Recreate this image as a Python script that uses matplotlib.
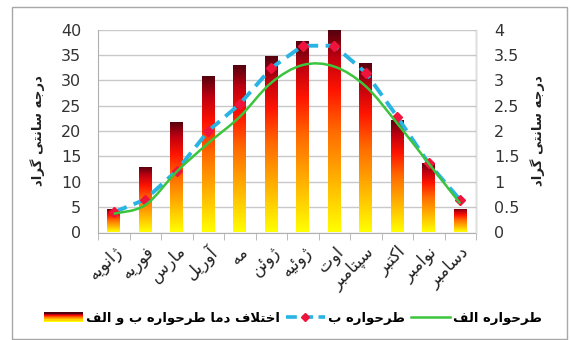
import numpy as np
import matplotlib
matplotlib.use("Agg")
import matplotlib.pyplot as plt
import matplotlib.transforms as mtransforms
from matplotlib.colors import LinearSegmentedColormap
from matplotlib.path import Path
from matplotlib.patches import PathPatch, Rectangle
from matplotlib.legend_handler import HandlerBase
from matplotlib.lines import Line2D

months = ["ژانویه", "فوریه", "مارس", "آوریل", "مه", "ژوئن",
          "ژوئیه", "اوت", "سپتامبر", "اکتبر", "نوامبر", "دسامبر"]
# temperature difference between designs B and A (left axis)
diff_ba = [4.6, 13.0, 21.8, 30.9, 33.0, 34.7, 37.8, 40.0, 33.4, 22.2, 13.6, 4.6]
# design B (right axis)
design_b = [0.40, 0.65, 1.22, 2.00, 2.53, 3.24, 3.68, 3.68, 3.15, 2.28, 1.36, 0.64]
# design A (right axis, smoothed line)
design_a = [0.37, 0.54, 1.20, 1.76, 2.28, 2.95, 3.30, 3.27, 2.88, 2.15, 1.36, 0.57]

left_ticks = [0, 5, 10, 15, 20, 25, 30, 35, 40]
right_ticks = [0, 0.5, 1, 1.5, 2, 2.5, 3, 3.5, 4]
right_ticklabels = ["0", "0.5", "1", "1.5", "2", "2.5", "3", "3.5", "4"]

ylabel_text = "درجه سانتی گراد"
legend_diff = "اختلاف دما طرحواره ب و الف"
legend_b = "طرحواره ب"
legend_a = "طرحواره الف"

# --- minimal Persian shaping (presentation forms + RTL order) ---
FORMS = {
    "ا": ("\uFE8D", "\uFE8E"), "آ": ("\uFE81", "\uFE82"),
    "د": ("\uFEA9", "\uFEAA"), "ر": ("\uFEAD", "\uFEAE"),
    "ژ": ("\uFB8A", "\uFB8B"), "و": ("\uFEED", "\uFEEE"),
    "ب": ("\uFE8F", "\uFE90", "\uFE91", "\uFE92"),
    "پ": ("\uFB56", "\uFB57", "\uFB58", "\uFB59"),
    "ت": ("\uFE95", "\uFE96", "\uFE97", "\uFE98"),
    "ج": ("\uFE9D", "\uFE9E", "\uFE9F", "\uFEA0"),
    "ح": ("\uFEA1", "\uFEA2", "\uFEA3", "\uFEA4"),
    "خ": ("\uFEA5", "\uFEA6", "\uFEA7", "\uFEA8"),
    "س": ("\uFEB1", "\uFEB2", "\uFEB3", "\uFEB4"),
    "ط": ("\uFEC1", "\uFEC2", "\uFEC3", "\uFEC4"),
    "ف": ("\uFED1", "\uFED2", "\uFED3", "\uFED4"),
    "ک": ("\uFB8E", "\uFB8F", "\uFB90", "\uFB91"),
    "گ": ("\uFB92", "\uFB93", "\uFB94", "\uFB95"),
    "ل": ("\uFEDD", "\uFEDE", "\uFEDF", "\uFEE0"),
    "م": ("\uFEE1", "\uFEE2", "\uFEE3", "\uFEE4"),
    "ن": ("\uFEE5", "\uFEE6", "\uFEE7", "\uFEE8"),
    "ه": ("\uFEE9", "\uFEEA", "\uFEEB", "\uFEEC"),
    "ی": ("\uFBFC", "\uFBFD", "\uFBFE", "\uFBFF"),
    "ئ": ("\uFE89", "\uFE8A", "\uFE8B", "\uFE8C"),
}
LAM_ALEF = {"ا": ("\uFEFB", "\uFEFC"), "آ": ("\uFEF5", "\uFEF6")}


def dual(c):
    return c in FORMS and len(FORMS[c]) == 4


def fa(text):
    out = []
    n = len(text)
    i = 0
    while i < n:
        c = text[i]
        prev_join = i > 0 and dual(text[i - 1])
        if c == "ل" and i + 1 < n and text[i + 1] in LAM_ALEF:
            out.append(LAM_ALEF[text[i + 1]][1 if prev_join else 0])
            i += 2
            continue
        if c not in FORMS:
            out.append(c)
            i += 1
            continue
        next_join = dual(c) and i + 1 < n and text[i + 1] in FORMS
        f = FORMS[c]
        if prev_join and next_join:
            out.append(f[3])
        elif prev_join:
            out.append(f[1])
        elif next_join:
            out.append(f[2])
        else:
            out.append(f[0])
        i += 1
    return "".join(reversed(out))


FONT = ["DejaVu Sans"]
plt.rcParams["font.family"] = FONT

bar_cmap = LinearSegmentedColormap.from_list(
    "heat", [(0.0, "#ffff00"), (0.25, "#ffb400"), (0.5, "#ff6a00"),
             (0.7, "#ff1400"), (0.86, "#c00010"), (1.0, "#50000e")])

fig = plt.figure(figsize=(5.71, 3.40), dpi=100)
ax = fig.add_axes([98 / 571, 1 - 232.5 / 340, 378 / 571, 203 / 340])
ax2 = ax.twinx()

x = np.arange(len(months))
grid_c = "#c8c8c8"

# bars with a vertical heat gradient, each bar gets its own ramp
bars = ax.bar(x, diff_ba, width=0.4, color="none", zorder=2)
grad = np.linspace(0, 1, 256).reshape(-1, 1)
for b in bars:
    x0, w, h = b.get_x(), b.get_width(), b.get_height()
    im = ax.imshow(grad, cmap=bar_cmap, origin="lower", aspect="auto",
                   extent=[x0, x0 + w, 0, h], zorder=2, interpolation="bilinear")
    im.set_clip_path(b)

ax.set_xlim(-0.5, len(months) - 0.5)
ax.set_ylim(0, 40)
ax.set_yticks(left_ticks)
ax.yaxis.grid(True, color=grid_c, linewidth=1.0)
ax.set_axisbelow(True)
ax.tick_params(axis="y", length=0, pad=12, labelsize=11.5, colors="#333333")

ax.set_xticks(x)
ax.set_xticklabels([fa(m) for m in months], rotation=45, ha="right",
                   va="center", rotation_mode="anchor", fontsize=12, color="#222222")
ax.set_xticks(np.arange(-0.5, len(months)), minor=True)
ax.tick_params(axis="x", which="major", length=0, pad=12)
ax.tick_params(axis="x", which="minor", length=5, color="#b0b0b0", direction="out")
shift = mtransforms.ScaledTranslation(6 / 100, 0, fig.dpi_scale_trans)
for lbl in ax.get_xticklabels():
    lbl.set_transform(lbl.get_transform() + shift)

ax.spines["top"].set_visible(False)
ax2.spines["top"].set_visible(False)
ax.spines["left"].set_color("#b0b0b0")
ax.spines["bottom"].set_color("#b0b0b0")
ax2.spines["right"].set_color("#dddddd")
ax2.spines["left"].set_visible(False)
ax2.spines["bottom"].set_visible(False)

ax2.set_ylim(0, 4)
ax2.set_yticks(right_ticks)
ax2.set_yticklabels(right_ticklabels)
ax2.tick_params(axis="y", length=0, pad=13, labelsize=11.5, colors="#333333")

# design B: dashed line with diamond markers
ax2.plot(x, design_b, color="#2ab4e4", linewidth=2.8, dashes=(3.6, 1.9),
         marker="D", markersize=5.5, markerfacecolor="#f0143c",
         markeredgecolor="#f0143c", zorder=3)

# design A: smoothed line as Catmull-Rom Bezier segments
pts = np.column_stack([x, design_a]).astype(float)
ext = np.vstack([pts[0], pts, pts[-1]])
verts = [tuple(pts[0])]
codes = [Path.MOVETO]
for i in range(1, len(ext) - 2):
    p0, p1, p2, p3 = ext[i - 1], ext[i], ext[i + 1], ext[i + 2]
    c1 = p1 + (p2 - p0) / 6.0
    c2 = p2 - (p3 - p1) / 6.0
    verts += [tuple(c1), tuple(c2), tuple(p2)]
    codes += [Path.CURVE4] * 3
ax2.add_patch(PathPatch(Path(verts, codes), facecolor="none",
                        edgecolor="#3cc43c", linewidth=1.8, zorder=4))

ax.yaxis.set_label_coords(-0.14, 0.5)
ax.set_ylabel(fa(ylabel_text), rotation=90, fontsize=9.5, fontweight="bold",
              color="#222222")
ax2.yaxis.set_label_coords(1.143, 0.5)
ax2.set_ylabel(fa(ylabel_text), rotation=90, fontsize=9.5, fontweight="bold",
               color="#222222")


class GradientHandler(HandlerBase):
    def create_artists(self, legend, orig_handle, xdescent, ydescent,
                       width, height, fontsize, trans):
        strips = []
        n = 8
        for k in range(n):
            strips.append(Rectangle((-xdescent, -ydescent + height * k / n),
                                    width, height / n + 0.2,
                                    facecolor=bar_cmap(k / (n - 1)),
                                    edgecolor="none", transform=trans))
        return strips


diff_handle = Rectangle((0, 0), 1, 1)
b_handle = Line2D([], [], color="#2ab4e4", linewidth=2.6, dashes=(3, 1.5),
                  marker="D", markersize=4.5, markerfacecolor="#f0143c",
                  markeredgecolor="#f0143c")
a_handle = Line2D([], [], color="#3cc43c", linewidth=1.8)

fig.legend([diff_handle, b_handle, a_handle],
           [fa(legend_diff), fa(legend_b), fa(legend_a)],
           handler_map={Rectangle: GradientHandler()},
           loc="center", bbox_to_anchor=(0.513, 0.064), ncol=3, frameon=False,
           handlelength=3.0, handletextpad=0.25, columnspacing=0.4,
           prop={"family": FONT, "size": 9.5, "weight": "bold"})

# chart border
fig.add_artist(Rectangle((12 / 571, 1 / 340), 555 / 571, 332 / 340,
                         transform=fig.transFigure, facecolor="none",
                         edgecolor="#a8a8a8", linewidth=1.0))

fig.savefig("out.png", dpi=100)
